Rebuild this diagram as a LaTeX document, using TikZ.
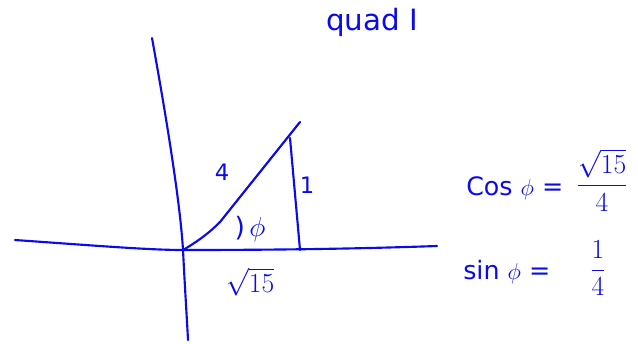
\documentclass[tikz,border=0pt]{standalone}
\usepackage{fontspec}
\setmainfont{DejaVu Sans}
\begin{document}
\begin{tikzpicture}[x=0.75pt,y=-0.75pt,
  ink/.style={draw=inkblue,line width=1.6pt,line cap=round,line join=round},
  lbl/.style={text=inkblue,inner sep=0pt,font=\fontsize{17}{20}\selectfont}]
\definecolor{inkblue}{RGB}{10,10,235}
\useasboundingbox (0,0) rectangle (638,343);
\coordinate (O) at (183,250);
\coordinate (xl) at (15,240);
\coordinate (xr) at (437,246);
\coordinate (yt) at (152,38);
\coordinate (yb) at (188,340);
\coordinate (H) at (300,122);
\coordinate (Vt) at (290,138);
\coordinate (Vb) at (300,250);
% axes
\draw[ink] (xl) .. controls (100,246) and (150,250) .. (O) .. controls (300,250) and (380,248) .. (xr);
\draw[ink] (yt) .. controls (165,110) and (180,200) .. (O) .. controls (185,290) and (187,320) .. (yb);
% triangle
\draw[ink] (O) .. controls (200,240) and (210,232) .. (220,222) -- (H);
\draw[ink] (Vt) -- (Vb);
% labels
\node[lbl] (four) at (222,172) {4};
\node[lbl] (one) at (307,185) {1};
\node[lbl,font=\fontsize{20}{24}\selectfont] (phi) at (250,229) {)\,$\phi$};
\node[lbl,font=\fontsize{20}{24}\selectfont] (r15) at (250,282) {$\sqrt{15}$};
\node[lbl,font=\fontsize{22}{26}\selectfont] (quad) at (372,22) {quad I};
\node[lbl,anchor=west,font=\fontsize{19}{22}\selectfont] (cos) at (466,188) {Cos $\phi$ =};
\node[lbl,font=\fontsize{20}{24}\selectfont] (cosfrac) at (602,180) {$\displaystyle\frac{\sqrt{15}}{4}$};
\node[lbl,anchor=west,font=\fontsize{19}{22}\selectfont] (sin) at (463,272) {sin $\phi$ =};
\node[lbl,font=\fontsize{20}{24}\selectfont] (sinfrac) at (598,268) {$\displaystyle\frac{1}{4}$};
\end{tikzpicture}
\end{document}
